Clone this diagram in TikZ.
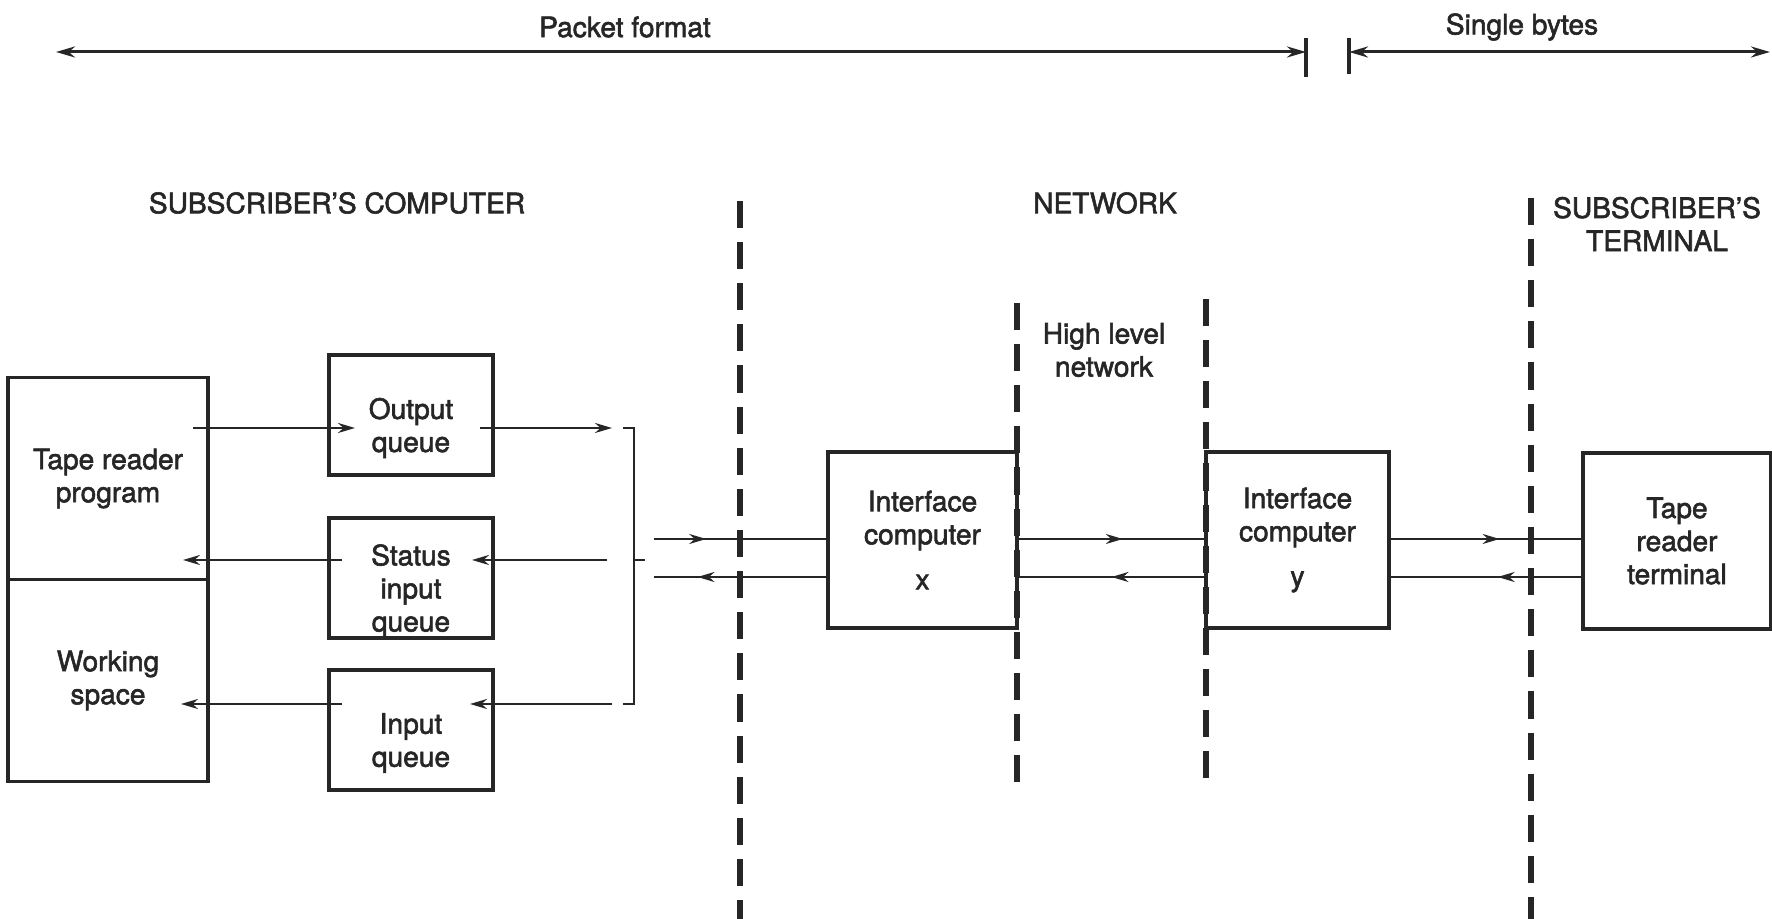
\documentclass[tikz,border=0pt]{standalone}
\usepackage{fontspec}
\setmainfont{TeX Gyre Heros}[FakeBold=2]
\usepackage{tikz}
\usetikzlibrary{arrows.meta, positioning, calc, decorations.markings}
\definecolor{ink}{gray}{0.15}

\begin{document}
\begin{tikzpicture}[
    >={Stealth[length=0.17cm, width=0.1cm]},
    node distance=0.4cm,
    txt/.style={font=\fontsize{8}{9.4}\selectfont, text=ink, align=center},
    box/.style={txt, draw=ink, line width=0.95pt, inner sep=0pt, outer sep=0pt},
    qbox/.style={box, minimum width=1.64cm, minimum height=1.2cm},
    qtext/.style={label={[txt, yshift=-0.13cm]center:{#1}}},
    cbox/.style={box, minimum width=1.88cm, minimum height=1.76cm},
    sbox/.style={box, minimum width=2.0cm, minimum height=2.02cm},
    sep/.style={draw=ink, line width=1.6pt, dash pattern=on 7.7pt off 4pt},
    line/.style={draw=ink, line width=0.65pt},
    arrow/.style={line, ->},
    span/.style={line, line width=0.85pt, arrows={Stealth[length=0.19cm, width=0.11cm]-Stealth[length=0.19cm, width=0.11cm]}},
    midarr/.style={postaction={decorate, decoration={markings, mark=at position #1 with {\arrow{>}}}}},
  ]
  \useasboundingbox (0,0) rectangle (17.72,-9.19);
  % Transfer units
  \coordinate (pf0) at (0.56,-0.52);
  \coordinate (pf1) at (13.06,-0.52);
  \coordinate (sb0) at (13.49,-0.52);
  \coordinate (sb1) at (17.70,-0.52);
  \draw[span] (pf0) -- (pf1);
  \draw[span] (sb0) -- (sb1);
  \draw[line, line width=0.95pt] (pf1) ++(0,0.14) -- ++(0,-0.39);
  \draw[line, line width=0.95pt] (sb0) ++(0,0.14) -- ++(0,-0.36);
  \node[txt] (pf) at (6.25,-0.27) {Packet format};
  \node[txt] (sb) at (15.22,-0.27) {Single bytes};
  % Headings
  \node[txt] (sc) at (3.37,-2.03) {SUBSCRIBER’S COMPUTER};
  \node[txt] (nw) at (11.05,-2.03) {NETWORK};
  \node[txt] (st) at (16.57,-2.24) {SUBSCRIBER’S\\TERMINAL};
  \node[txt] (hl) at (11.04,-3.50) {High level\\network};
  % Subscriber's computer
  \node[sbox] (tp) at (1.08,-4.785) {Tape reader\\program};
  \node[sbox, below=0cm of tp] (ws) {Working\\space};
  \node[qbox, qtext={Output\\queue}] (oq) at (4.11,-4.15) {};
  \node[qbox, qtext={Status\\input\\queue}, below=0.43cm of oq] (sq) {};
  \node[qbox, qtext={Input\\queue}, below=0.32cm of sq] (iq) {};
  % Network and terminal
  \node[cbox, minimum width=1.89cm] (icx) at (9.225,-5.40) {Interface\\computer\\[0.12cm]x};
  \node[cbox, minimum width=1.83cm] (icy) at (12.975,-5.40) {Interface\\computer\\[0.12cm]y};
  \node[cbox] (trt) at (16.77,-5.41) {Tape\\reader\\terminal};
  % Boundaries
  \draw[sep] (7.40,-2.01) -- (7.40,-9.25);
  \draw[sep] (icx.east |- 0,-3.03) -- (icx.east |- 0,-7.83);
  \draw[sep] (icy.west |- 0,-2.99) -- (icy.west |- 0,-7.83);
  \draw[sep] (15.31,-1.98) -- (15.31,-9.25);
  % Rows
  \coordinate (r1) at (0,-4.28);
  \coordinate (r2) at (0,-5.60);
  \coordinate (r3) at (0,-7.04);
  \coordinate (ra) at (0,-5.39);
  \coordinate (rb) at (0,-5.77);
  % Bracket
  \coordinate (bt) at (6.34,-4.28);
  \coordinate (bm) at (6.34,-5.60);
  \coordinate (bb) at (6.34,-7.04);
  \draw[line, line width=0.75pt] ([xshift=-0.11cm]bt) -- (bt) -- (bb) -- ([xshift=-0.11cm]bb);
  \draw[line, line width=0.75pt] (bm) -- ++(0.11,0);
  \coordinate (la) at (6.54,-5.39);
  \coordinate (lb) at (6.54,-5.77);
  % Queue traffic
  \draw[arrow, shorten <=-0.15cm, shorten >=-0.26cm] (tp.east |- r1) -- (oq.west |- r1);
  \draw[arrow, shorten <=-0.13cm] (oq.east |- r1) -- ([xshift=-0.22cm]bt);
  \draw[arrow, shorten >=-0.21cm] ([xshift=-0.27cm]bm) -- (sq.east |- r2);
  \draw[arrow, shorten <=-0.13cm, shorten >=-0.25cm] (sq.west |- r2) -- (tp.east |- r2);
  \draw[arrow, shorten >=-0.23cm] ([xshift=-0.22cm]bb) -- (iq.east |- r3);
  \draw[arrow, shorten <=-0.13cm, shorten >=-0.27cm] (iq.west |- r3) -- (ws.east |- r3);
  % Links
  \draw[line, midarr=0.30] (la) -- (icx.west |- ra);
  \draw[line, midarr=0.75] (icx.west |- rb) -- (lb);
  \draw[line, midarr=0.56] (icx.east |- ra) -- (icy.west |- ra);
  \draw[line, midarr=0.50] (icy.west |- rb) -- (icx.east |- rb);
  \draw[line, midarr=0.57] (icy.east |- ra) -- (trt.west |- ra);
  \draw[line, midarr=0.44] (trt.west |- rb) -- (icy.east |- rb);
\end{tikzpicture}
\end{document}
